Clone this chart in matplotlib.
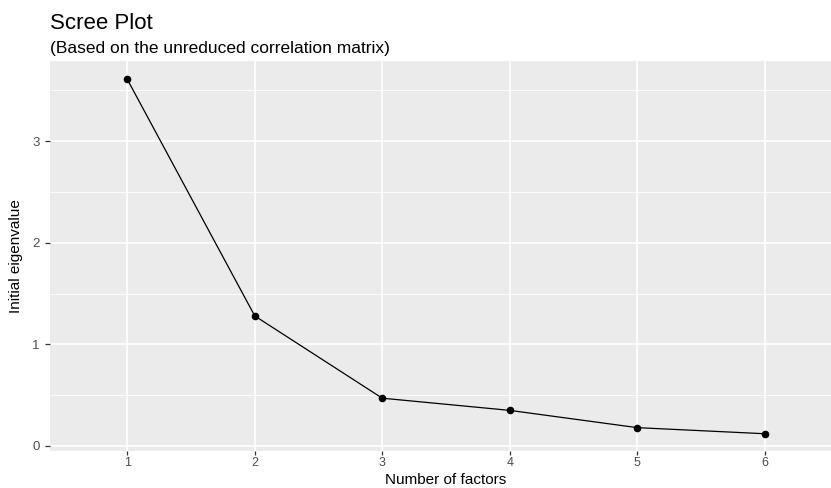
import matplotlib
matplotlib.use("Agg")
import matplotlib.pyplot as plt
from matplotlib.ticker import MultipleLocator
from matplotlib import font_manager

factors = [1, 2, 3, 4, 5, 6]
eigenvalues = [3.61, 1.28, 0.47, 0.35, 0.18, 0.12]
x_ticks = [1, 2, 3, 4, 5, 6]
y_ticks = [0, 1, 2, 3]

names = {f.name for f in font_manager.fontManager.ttflist}
base = "Liberation Sans" if "Liberation Sans" in names else "DejaVu Sans"
plt.rcParams["font.family"] = [base, "DejaVu Sans"]

W, H = 831, 488
fig = plt.figure(figsize=(W / 100, H / 100), dpi=100)
left, right, top, bottom = 50, 842, 61, 451
aw, ah = right - left, bottom - top
ax = fig.add_axes([left / W, (H - bottom) / H, aw / W, ah / H])
ax.set_facecolor("#EBEBEB")
for s in ax.spines.values():
    s.set_visible(False)

ax.plot(factors, eigenvalues, color="black", lw=0.9, zorder=3)
ax.scatter(factors, eigenvalues, color="black", s=20, zorder=4)

ax.set_xlim(0.394, 6.606)
ax.set_ylim(-0.05, 3.79)
ax.set_xticks(x_ticks)
ax.set_yticks(y_ticks)
ax.yaxis.set_minor_locator(MultipleLocator(0.5))
ax.grid(which="major", color="white", lw=1.2)
ax.grid(which="minor", axis="y", color="white", lw=0.6)
ax.set_axisbelow(True)
ax.tick_params(which="major", length=3, width=0.9, color="#333333", labelcolor="#4D4D4D",
               labelsize=9.5)
ax.tick_params(axis="x", which="major", labelsize=9, pad=1)
ax.tick_params(axis="y", which="major", length=3.6, pad=4)
ax.tick_params(which="minor", length=0)

ax.set_xlabel("Number of factors", fontsize=11, color="black")
ax.xaxis.set_label_coords(0.5, (bottom - 484.5) / ah)
ax.xaxis.label.set_va("baseline")
ax.set_ylabel("Initial eigenvalue", fontsize=11, color="black")
ax.yaxis.set_label_coords((16.5 - left) / aw, 0.5)
ax.yaxis.label.set_va("center")

fig.text(left / W, 1 - 29 / H, "Scree Plot", fontsize=16, color="black", ha="left", va="baseline")
fig.text(left / W, 1 - 53 / H, "(Based on the unreduced correlation matrix)", fontsize=12.5,
         color="black", ha="left", va="baseline")

fig.savefig("out.png", dpi=100)
